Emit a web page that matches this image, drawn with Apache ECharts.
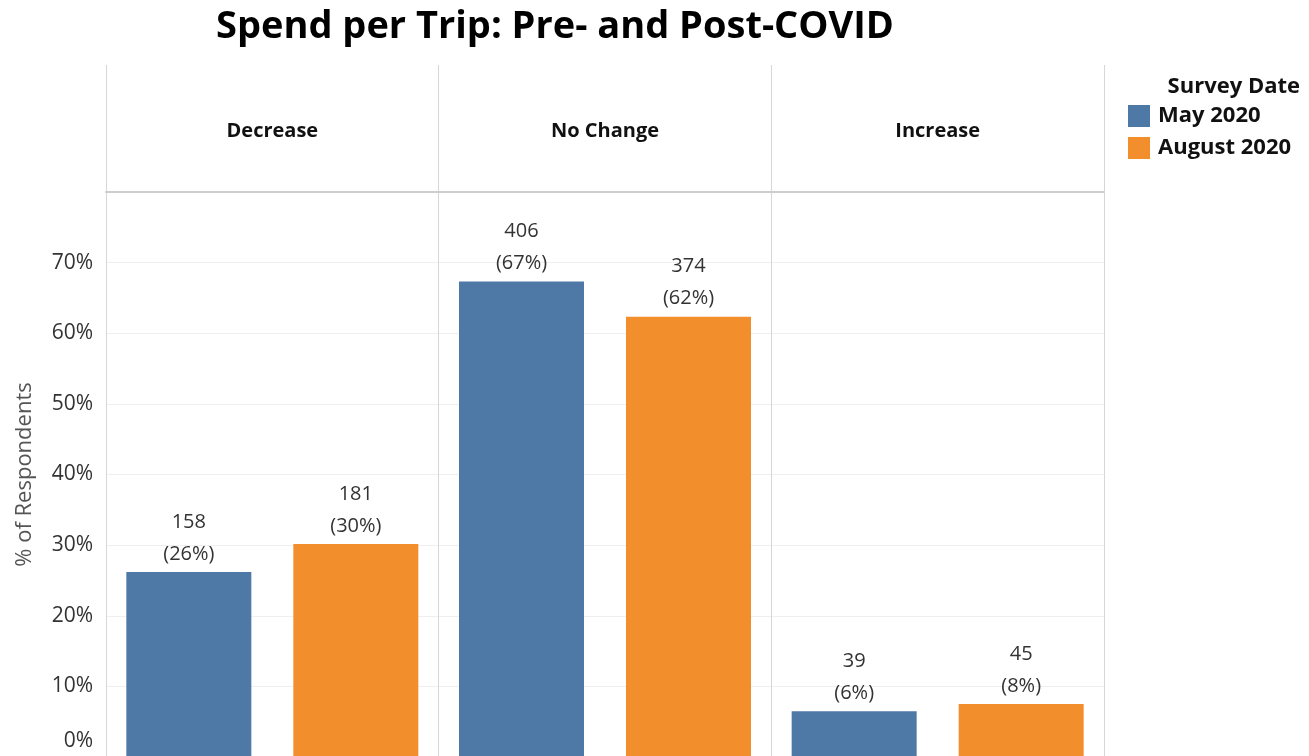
<!DOCTYPE html>
<html>
<head>
<meta charset="utf-8">
<script src="https://cdn.jsdelivr.net/npm/echarts@6/dist/echarts.min.js"></script>
<style>
  html, body { margin: 0; padding: 0; background: #fff; }
  #chart { width: 1309px; height: 756px; }
</style>
</head>
<body>
<div id="chart"></div>
<script>
const categories = ['Decrease', 'No Change', 'Increase']
const seriesNames = ['May 2020', 'August 2020']
// share of respondents (%) and respondent counts per survey
const mayPct = [26.2, 67.33, 6.47]
const augPct = [30.17, 62.33, 7.5]
const mayCount = [158, 406, 39]
const augCount = [181, 374, 45]
const yTicks = [0, 10, 20, 30, 40, 50, 60, 70]

const colors = ['#4e79a7', '#f28e2b']
const font = '"Open Sans", "Noto Sans", sans-serif'
const lineColor = '#d6d6d6'

const chart = echarts.init(document.getElementById('chart'))

const makeLabel = (counts) => ({
  show: true,
  position: 'top',
  distance: 2,
  fontFamily: font,
  fontSize: 20,
  lineHeight: 32,
  color: '#333',
  formatter: (p) => counts[p.dataIndex] + '\n(' + Math.round(p.value) + '%)'
})

const option = {
  animation: false,
  title: [
    {
      text: 'Spend per Trip: Pre- and Post-COVID',
      left: 550,
      top: 3,
      textAlign: 'center',
      textStyle: { fontFamily: font, fontSize: 38, fontWeight: 'bold', color: '#000' }
    },
    {
      text: 'Survey Date',
      right: 4,
      top: 71,
      textStyle: { fontFamily: font, fontSize: 22, fontWeight: 'bold', color: '#111' }
    }
  ],
  legend: {
    data: seriesNames,
    orient: 'vertical',
    left: 1128,
    top: 105,
    padding: 0,
    itemWidth: 22,
    itemHeight: 22,
    itemGap: 10,
    icon: 'rect',
    textStyle: {
      fontFamily: font,
      fontSize: 22,
      fontWeight: 'bold',
      color: '#111',
      padding: [0, 0, 0, 3]
    }
  },
  grid: [
    { left: 106, right: 205, top: 192, bottom: -1, outerBoundsMode: 'none', containLabel: false },
    { left: 106, right: 205, top: 65, height: 127, outerBoundsMode: 'none', containLabel: false }
  ],
  xAxis: [
    {
      type: 'category',
      gridIndex: 0,
      position: 'top',
      data: categories,
      axisLine: { show: true, onZero: false, lineStyle: { color: '#cdcdcd', width: 2 } },
      axisTick: { show: false },
      axisLabel: {
        margin: 51,
        fontFamily: font,
        fontSize: 20,
        fontWeight: 'bold',
        color: '#111'
      },
      splitLine: { show: true, lineStyle: { color: lineColor, width: 1 } },
      z: 5
    },
    {
      type: 'category',
      gridIndex: 1,
      data: categories,
      axisLine: { show: false },
      axisTick: { show: false },
      axisLabel: { show: false },
      splitLine: { show: true, lineStyle: { color: lineColor, width: 1 } }
    }
  ],
  yAxis: [
    {
      type: 'value',
      gridIndex: 0,
      min: 0,
      max: 80,
      interval: 10,
      name: '% of Respondents',
      nameLocation: 'middle',
      nameGap: 70,
      nameTextStyle: { fontFamily: font, fontSize: 22, color: '#555' },
      axisLine: { show: false },
      axisTick: { show: false },
      axisLabel: {
        margin: 13,
        fontFamily: font,
        fontSize: 21,
        color: '#333',
        formatter: (v) => {
          if (!yTicks.includes(v)) return ''
          if (v === 0) return '{z|0%}'
          return v + '%'
        },
        rich: {
          z: { fontFamily: font, fontSize: 21, color: '#333', padding: [0, 0, 32, 0] }
        }
      },
      splitLine: { show: true, lineStyle: { color: '#efefef', width: 1 } }
    },
    {
      type: 'value',
      gridIndex: 1,
      show: false
    }
  ],
  series: [
    {
      name: seriesNames[0],
      type: 'bar',
      xAxisIndex: 0,
      yAxisIndex: 0,
      data: mayPct,
      barWidth: 125,
      barGap: '33.6%',
      itemStyle: { color: colors[0] },
      label: makeLabel(mayCount)
    },
    {
      name: seriesNames[1],
      type: 'bar',
      xAxisIndex: 0,
      yAxisIndex: 0,
      data: augPct,
      barWidth: 125,
      barGap: '33.6%',
      itemStyle: { color: colors[1] },
      label: makeLabel(augCount)
    }
  ]
}

chart.setOption(option)

window.addEventListener('resize', () => {
  chart.resize()
})
</script>
</body>
</html>
